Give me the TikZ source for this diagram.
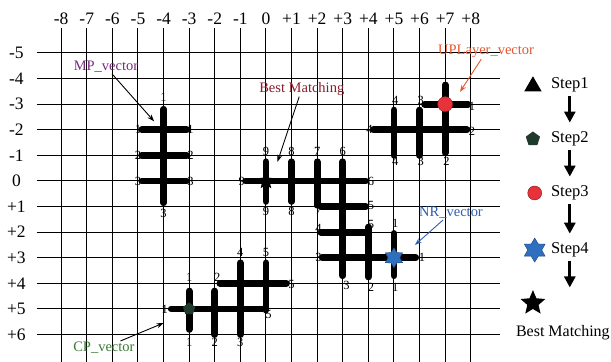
\documentclass[tikz,border=0pt]{standalone}
\usepackage{fontspec}
\setmainfont{Liberation Serif}
\usetikzlibrary{arrows.meta,shapes.geometric}

\definecolor{mpcol}{HTML}{7A2A80}
\definecolor{bestcol}{HTML}{8B1C2C}
\definecolor{upcol}{HTML}{E8552E}
\definecolor{nrcol}{HTML}{2F5FB3}
\definecolor{cpcol}{HTML}{3D7A35}
\definecolor{dotred}{HTML}{E8323A}
\definecolor{hexblue}{HTML}{2F6FC0}
\definecolor{pentgreen}{HTML}{1F3A2C}

\tikzset{
  gridline/.style={line width=1pt},
  bar/.style={line width=6.8pt, line cap=round},
  axislab/.style={font=\fontsize{17.5}{17.5}\selectfont, inner sep=0pt},
  barlab/.style={font=\fontsize{12.5}{12.5}\selectfont, inner sep=0pt},
  callout/.style={font=\fontsize{14.5}{14.5}\selectfont, inner sep=1pt},
  pointer/.style={line width=0.9pt, -{Stealth[length=7pt,width=5pt]}},
  legtext/.style={font=\fontsize{16.5}{16.5}\selectfont, inner sep=1pt, anchor=west},
  legarrow/.style={line width=2.8pt, -{Triangle[length=11pt,width=11pt]}, shorten <=3pt, shorten >=8pt},
}

\begin{document}
\begin{tikzpicture}[x=0.9cm, y=-0.9cm]
  \useasboundingbox (-10.39,-7.07) rectangle (13.48,7.07);

  % Grid
  \foreach \r in {-5,...,6}
    \draw[gridline] (-8.95,\r) -- (9.14,\r);
  \foreach \c in {-8,...,8}
    \draw[gridline] (\c,-5.98) -- (\c,7.1);

  % Axis labels
  \foreach \c in {-8,...,8}
    \node[axislab] (col\c) at (\c,-6.35) {\ifnum\c>0 +\fi\c};
  \foreach \r in {-5,...,6}
    \node[axislab] (row\r) at (-9.75,\r) {\ifnum\r>0 +\fi\r};

  % MP vector (column -4)
  \draw[bar] (-4,-2.8) -- (-4,0.85);
  \foreach \r/\n in {-2/1,-1/2,0/3} {
    \draw[bar] (-4.85,\r) -- (-3.1,\r);
    \node[barlab] (mpL\n) at (-5.0,\r) {\n};
    \node[barlab] (mpR\n) at (-2.95,\r) {\n};
  }
  \node[barlab] (mpT) at (-4,-3.25) {1};
  \node[barlab] (mpB) at (-4,1.25) {3};

  % Best matching (row 0) and NR vector
  \draw[bar] (-0.8,0) -- (3.9,0);
  \draw[bar] (0,-0.75) -- (0,0.8);
  \draw[bar] (1,-0.75) -- (1,0.8);
  \draw[bar] (2,-0.75) -- (2,0.95);
  \draw[bar] (3,-0.75) -- (3,3.7);
  \draw[bar] (2.15,1) -- (3.9,1);
  \draw[bar] (2.15,2) -- (3.9,2);
  \draw[bar] (2.2,3) -- (5.85,3);
  \draw[bar] (4,1.8) -- (4,3.75);
  \draw[bar] (5,2.05) -- (5,3.7);
  \foreach \c/\n in {0/9,1/8,2/7,3/6}
    \node[barlab] (bmT\n) at (\c,-1.15) {\n};
  \node[barlab] (bmL) at (-0.95,0) {9};
  \node[barlab] (bmR) at (4.1,0) {6};
  \node[barlab] (bmB9) at (0,1.2) {9};
  \node[barlab] (bmB8) at (1,1.2) {8};
  \node[barlab] (bmB7) at (2.05,1.15) {7};
  \node[barlab] (nrR5a) at (4.1,0.95) {5};
  \node[barlab] (nrL4) at (2.05,1.85) {4};
  \node[barlab] (nrR5b) at (4.1,1.7) {5};
  \node[barlab] (nrL3) at (2.05,3) {3};
  \node[barlab] (nrR1) at (6.1,3) {1};
  \node[barlab] (nrT1) at (5.05,1.65) {1};
  \node[barlab] (nrB3) at (3.15,4.1) {3};
  \node[barlab] (nrB2) at (4.1,4.15) {2};
  \node[barlab] (nrB1) at (5.05,4.15) {1};
  \node[star, star points=5, star point ratio=2.2, fill=black, minimum size=18pt, inner sep=0pt] (bestpt) at (0,0) {};
  \node[star, star points=6, star point ratio=1.7, fill=hexblue, draw=hexblue!60!black, minimum size=20pt, inner sep=0pt] (nrpt) at (5,3) {};

  % UPLayer vector
  \draw[bar] (4.2,-2) -- (7.85,-2);
  \draw[bar] (6.2,-3) -- (7.9,-3);
  \draw[bar] (5,-2.77) -- (5,-1.0);
  \draw[bar] (6,-2.77) -- (6,-1.0);
  \draw[bar] (7,-3.75) -- (7,-1.1);
  \node[barlab] (upL4) at (4.05,-2) {4};
  \node[barlab] (upR2) at (8.05,-1.95) {2};
  \node[barlab] (upR1) at (8.05,-2.9) {1};
  \node[barlab] (upT4) at (5.05,-3.16) {4};
  \node[barlab] (upT3) at (6.05,-3.16) {3};
  \node[barlab] (upB4) at (5.05,-0.75) {4};
  \node[barlab] (upB3) at (6.05,-0.75) {3};
  \node[barlab] (upB2) at (7.05,-0.75) {2};
  \node[circle, fill=dotred, draw=dotred!60!black, minimum size=15pt, inner sep=0pt] (uppt) at (7,-3) {};

  % CP vector
  \draw[bar] (-3.7,5) -- (-0.15,5);
  \draw[bar] (-1.8,4) -- (0.8,4);
  \draw[bar] (-3,4.3) -- (-3,5.8);
  \draw[bar] (-2,4.3) -- (-2,6.0);
  \draw[bar] (-1,3.2) -- (-1,6.0);
  \draw[bar] (0,3.2) -- (0,5.05);
  \node[barlab] (cpL1) at (-3.95,5) {1};
  \node[barlab] (cpR5) at (0.1,5.2) {5};
  \node[barlab] (cpL2) at (-1.9,3.75) {2};
  \node[barlab] (cpR5b) at (1.0,4.05) {5};
  \node[barlab] (cpT1) at (-3,3.75) {1};
  \node[barlab] (cpT4) at (-1,2.8) {4};
  \node[barlab] (cpT5) at (0,2.8) {5};
  \node[barlab] (cpB1) at (-3,6.3) {1};
  \node[barlab] (cpB2) at (-2,6.3) {2};
  \node[barlab] (cpB3) at (-1,6.3) {3};
  \node[regular polygon, regular polygon sides=5, fill=pentgreen, minimum size=13pt, inner sep=0pt] (cppt) at (-3,5) {};

  % Callouts
  \node[callout, text=mpcol] (mptext) at (-6.25,-4.45) {MP\_vector};
  \coordinate (mptip) at (-4.37,-2.33);
  \draw[pointer] (mptext) -- (mptip);
  \node[callout, text=bestcol] (besttext) at (1.4,-3.6) {Best Matching};
  \coordinate (besttip) at (0.45,-0.75);
  \draw[pointer] (besttext) -- (besttip);
  \node[callout, text=upcol] (uptext) at (8.6,-5.05) {UPLayer\_vector};
  \coordinate (uptip) at (7.58,-3.48);
  \draw[pointer, upcol] (uptext) -- (uptip);
  \node[callout, text=nrcol] (nrtext) at (7.23,1.25) {NR\_vector};
  \coordinate (nrtip) at (5.82,2.5);
  \draw[pointer, nrcol] (nrtext) -- (nrtip);
  \node[callout, text=cpcol] (cptext) at (-6.33,6.52) {CP\_vector};
  \coordinate (cptip) at (-4.0,5.55);
  \draw[pointer] (cptext) -- (cptip);

  % Legend
  \node[regular polygon, regular polygon sides=3, fill=black, minimum size=20pt, inner sep=0pt] (mark1) at (10.43,-3.7) {};
  \node[legtext] (step1) at (11.09,-3.75) {Step1};
  \node[regular polygon, regular polygon sides=5, fill=pentgreen, minimum size=15pt, inner sep=0pt] (mark2) at (10.43,-1.64) {};
  \node[legtext] (step2) at (11.09,-1.64) {Step2};
  \node[circle, fill=dotred, draw=dotred!50!black, minimum size=14pt, inner sep=0pt] (mark3) at (10.5,0.47) {};
  \node[legtext] (step3) at (11.09,0.47) {Step3};
  \node[star, star points=6, star point ratio=1.7, fill=hexblue, draw=hexblue!60!black, minimum size=24pt, inner sep=0pt] (mark4) at (10.5,2.7) {};
  \node[legtext] (step4) at (11.09,2.7) {Step4};
  \node[star, star points=5, star point ratio=2.2, fill=black, minimum size=26pt, inner sep=0pt] (mark5) at (10.43,4.77) {};
  \node[font=\fontsize{16}{16}\selectfont, inner sep=1pt] (step5) at (11.6,5.94) {Best Matching};
  \draw[legarrow] (step1.south) -- (step2.north);
  \draw[legarrow] (step2.south) -- (step3.north);
  \draw[legarrow] (step3.south) -- (step4.north);
  \coordinate (step4end) at ([yshift=-37pt]step4.south);
  \draw[legarrow] (step4.south) -- (step4end);
\end{tikzpicture}
\end{document}
